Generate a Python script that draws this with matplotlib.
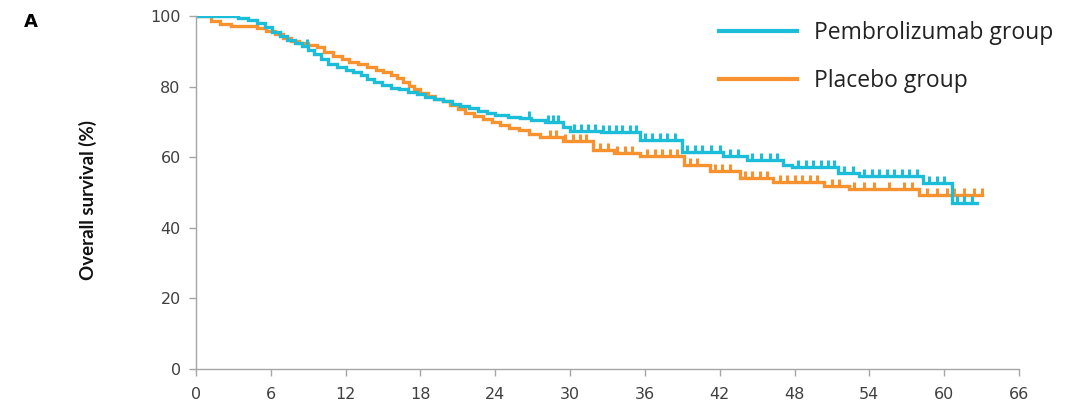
import numpy as np
import matplotlib
matplotlib.use("Agg")
import matplotlib.pyplot as plt

# ---- data ----
pembro_t = [0, 3.4, 4.2, 4.9, 5.5, 6.1, 6.7, 7.3, 7.9, 8.5, 9.0, 9.5, 10.0, 10.6, 11.3,
            12.0, 12.6, 13.2, 13.7, 14.3, 14.9, 15.6, 16.3, 17.0, 17.7, 18.4, 19.1, 19.8,
            20.5, 21.2, 21.9, 22.6, 23.3, 24.0, 25.0, 26.0, 26.9, 28.0, 29.4, 30.0, 32.5,
            35.6, 39.0, 42.3, 44.2, 47.1, 47.8, 51.5, 53.2, 58.3, 60.6, 62.6]
pembro_s = [100, 99.4, 98.8, 98.0, 97.0, 95.5, 94.3, 93.2, 92.4, 91.5, 90.5, 89.2, 87.8,
            86.3, 85.6, 84.8, 84.0, 83.2, 82.2, 81.2, 80.4, 79.7, 79.2, 78.6, 78.0, 77.0,
            76.4, 75.8, 75.0, 74.4, 73.8, 73.1, 72.5, 71.9, 71.5, 71.0, 70.4, 70.0, 68.6,
            67.5, 67.2, 65.0, 61.6, 60.3, 59.2, 57.8, 57.3, 55.5, 54.6, 52.6, 47.0, 47.0]

placebo_t = [0, 1.2, 1.9, 2.8, 4.9, 5.6, 6.3, 7.0, 7.6, 8.3, 9.0, 9.7, 10.3, 11.0, 11.7,
             12.3, 13.0, 13.7, 14.4, 15.0, 15.6, 16.1, 16.6, 17.1, 17.5, 18.0, 18.6, 19.2,
             19.8, 20.4, 21.0, 21.6, 22.3, 23.0, 23.7, 24.4, 25.1, 25.9, 26.7, 27.6, 29.4,
             31.8, 33.5, 35.6, 39.1, 41.2, 43.6, 46.3, 50.4, 52.4, 58.0, 63.0]
placebo_s = [100, 98.6, 97.6, 97.3, 96.6, 95.8, 94.8, 93.8, 92.9, 92.3, 91.7, 91.1, 89.8,
             88.6, 87.8, 87.0, 86.3, 85.5, 84.8, 84.0, 83.2, 82.3, 81.3, 80.2, 79.2, 78.2,
             77.3, 76.5, 75.8, 74.8, 73.6, 72.6, 71.6, 70.8, 69.9, 69.2, 68.4, 67.6, 66.6,
             65.6, 64.6, 62.0, 61.2, 60.2, 57.8, 56.2, 54.0, 53.0, 51.8, 51.0, 49.3, 49.3]

pembro_cens = [8.9, 26.7, 28.2, 28.6, 29.0, 30.3, 30.9, 31.4, 32.0, 32.6, 33.1, 33.7, 34.2,
               34.8, 35.3, 36.0, 36.6, 37.2, 37.8, 38.4, 39.4, 40.0, 40.6, 41.3, 42.0, 42.8,
               43.5, 44.6, 45.3, 46.0, 46.6, 48.3, 48.9, 49.5, 50.1, 50.7, 51.2, 52.0, 52.7,
               53.6, 54.2, 54.8, 55.4, 56.0, 56.6, 57.2, 57.8, 58.8, 59.4, 60.0, 61.0, 61.6,
               62.2]
placebo_cens = [28.4, 28.9, 29.6, 30.2, 30.8, 31.3, 32.4, 33.0, 33.8, 34.4, 35.0, 36.2,
                36.8, 37.4, 38.0, 38.6, 39.6, 40.2, 41.6, 42.2, 42.8, 44.0, 44.6, 45.2,
                45.8, 46.8, 47.4, 48.0, 48.6, 49.2, 49.8, 51.0, 51.6, 52.8, 53.6, 54.4,
                55.6, 56.8, 57.4, 58.6, 59.4, 60.2, 60.8, 61.6, 62.4, 63.0]

x_ticks = [0, 6, 12, 18, 24, 30, 36, 42, 48, 54, 60, 66]
y_ticks = [0, 20, 40, 60, 80, 100]
labels = ["Pembrolizumab group", "Placebo group"]
y_label = "Overall survival (%)"
panel = "A"

CYAN = "#1CBDD8"
ORANGE = "#F7922F"
SPINE = "#A6A6A6"
TXT = "#404040"


def surv_at(tt, ss, c):
    idx = np.searchsorted(np.asarray(tt), np.asarray(c), side="right") - 1
    return np.asarray(ss)[idx]


fig = plt.figure(figsize=(10.89, 4.09), dpi=100)
ax = fig.add_axes([196 / 1089, 1 - 369 / 409, (1019 - 196) / 1089, (369 - 16) / 409])

for tt, ss, cc, col, lab in [(placebo_t, placebo_s, placebo_cens, ORANGE, labels[1]),
                             (pembro_t, pembro_s, pembro_cens, CYAN, labels[0])]:
    ax.step(tt, ss, where="post", color=col, lw=2.4, label=lab, solid_joinstyle="miter")
    ax.plot(cc, surv_at(tt, ss, cc), ls="none", marker=2, ms=5, mew=2.2, color=col)

ax.set_xlim(0, 66)
ax.set_ylim(0, 100)
ax.set_xticks(x_ticks)
ax.set_yticks(y_ticks)
for s in ["top", "right"]:
    ax.spines[s].set_visible(False)
for s in ["left", "bottom"]:
    ax.spines[s].set_color(SPINE)
    ax.spines[s].set_linewidth(1.0)
ax.tick_params(axis="both", direction="out", length=5, width=1, color=SPINE,
               labelsize=11.5, labelcolor=TXT, pad=6)
ax.tick_params(axis="x", pad=8)
for lbl in ax.get_xticklabels() + ax.get_yticklabels():
    lbl.set_family(["DejaVu Sans"])

ax.set_ylabel(y_label, fontsize=13.5, fontweight="bold", family=["Lato", "DejaVu Sans"],
              color="#111111")
ax.yaxis.set_label_coords(-(196 - 97) / 823, (369 - 200) / 353)
fig.text(24 / 1089, 1 - 22 / 409, panel, fontsize=13, fontweight="heavy",
         family=["DejaVu Sans"], va="center", ha="left")

h, l = ax.get_legend_handles_labels()
order = [1, 0]
leg = ax.legend([h[i] for i in order], [l[i] for i in order],
                loc="upper left", bbox_to_anchor=(719 / 1089, 1 - 21 / 409),
                bbox_transform=fig.transFigure, frameon=False,
                prop={"family": ["Open Sans", "DejaVu Sans"], "size": 16.5},
                handlelength=3.4, handletextpad=0.75, labelspacing=1.05,
                borderpad=0, borderaxespad=0)
for t in leg.get_texts():
    t.set_color("#222222")
for ln in leg.get_lines():
    ln.set_linewidth(3)

fig.savefig("out.png", dpi=100)
